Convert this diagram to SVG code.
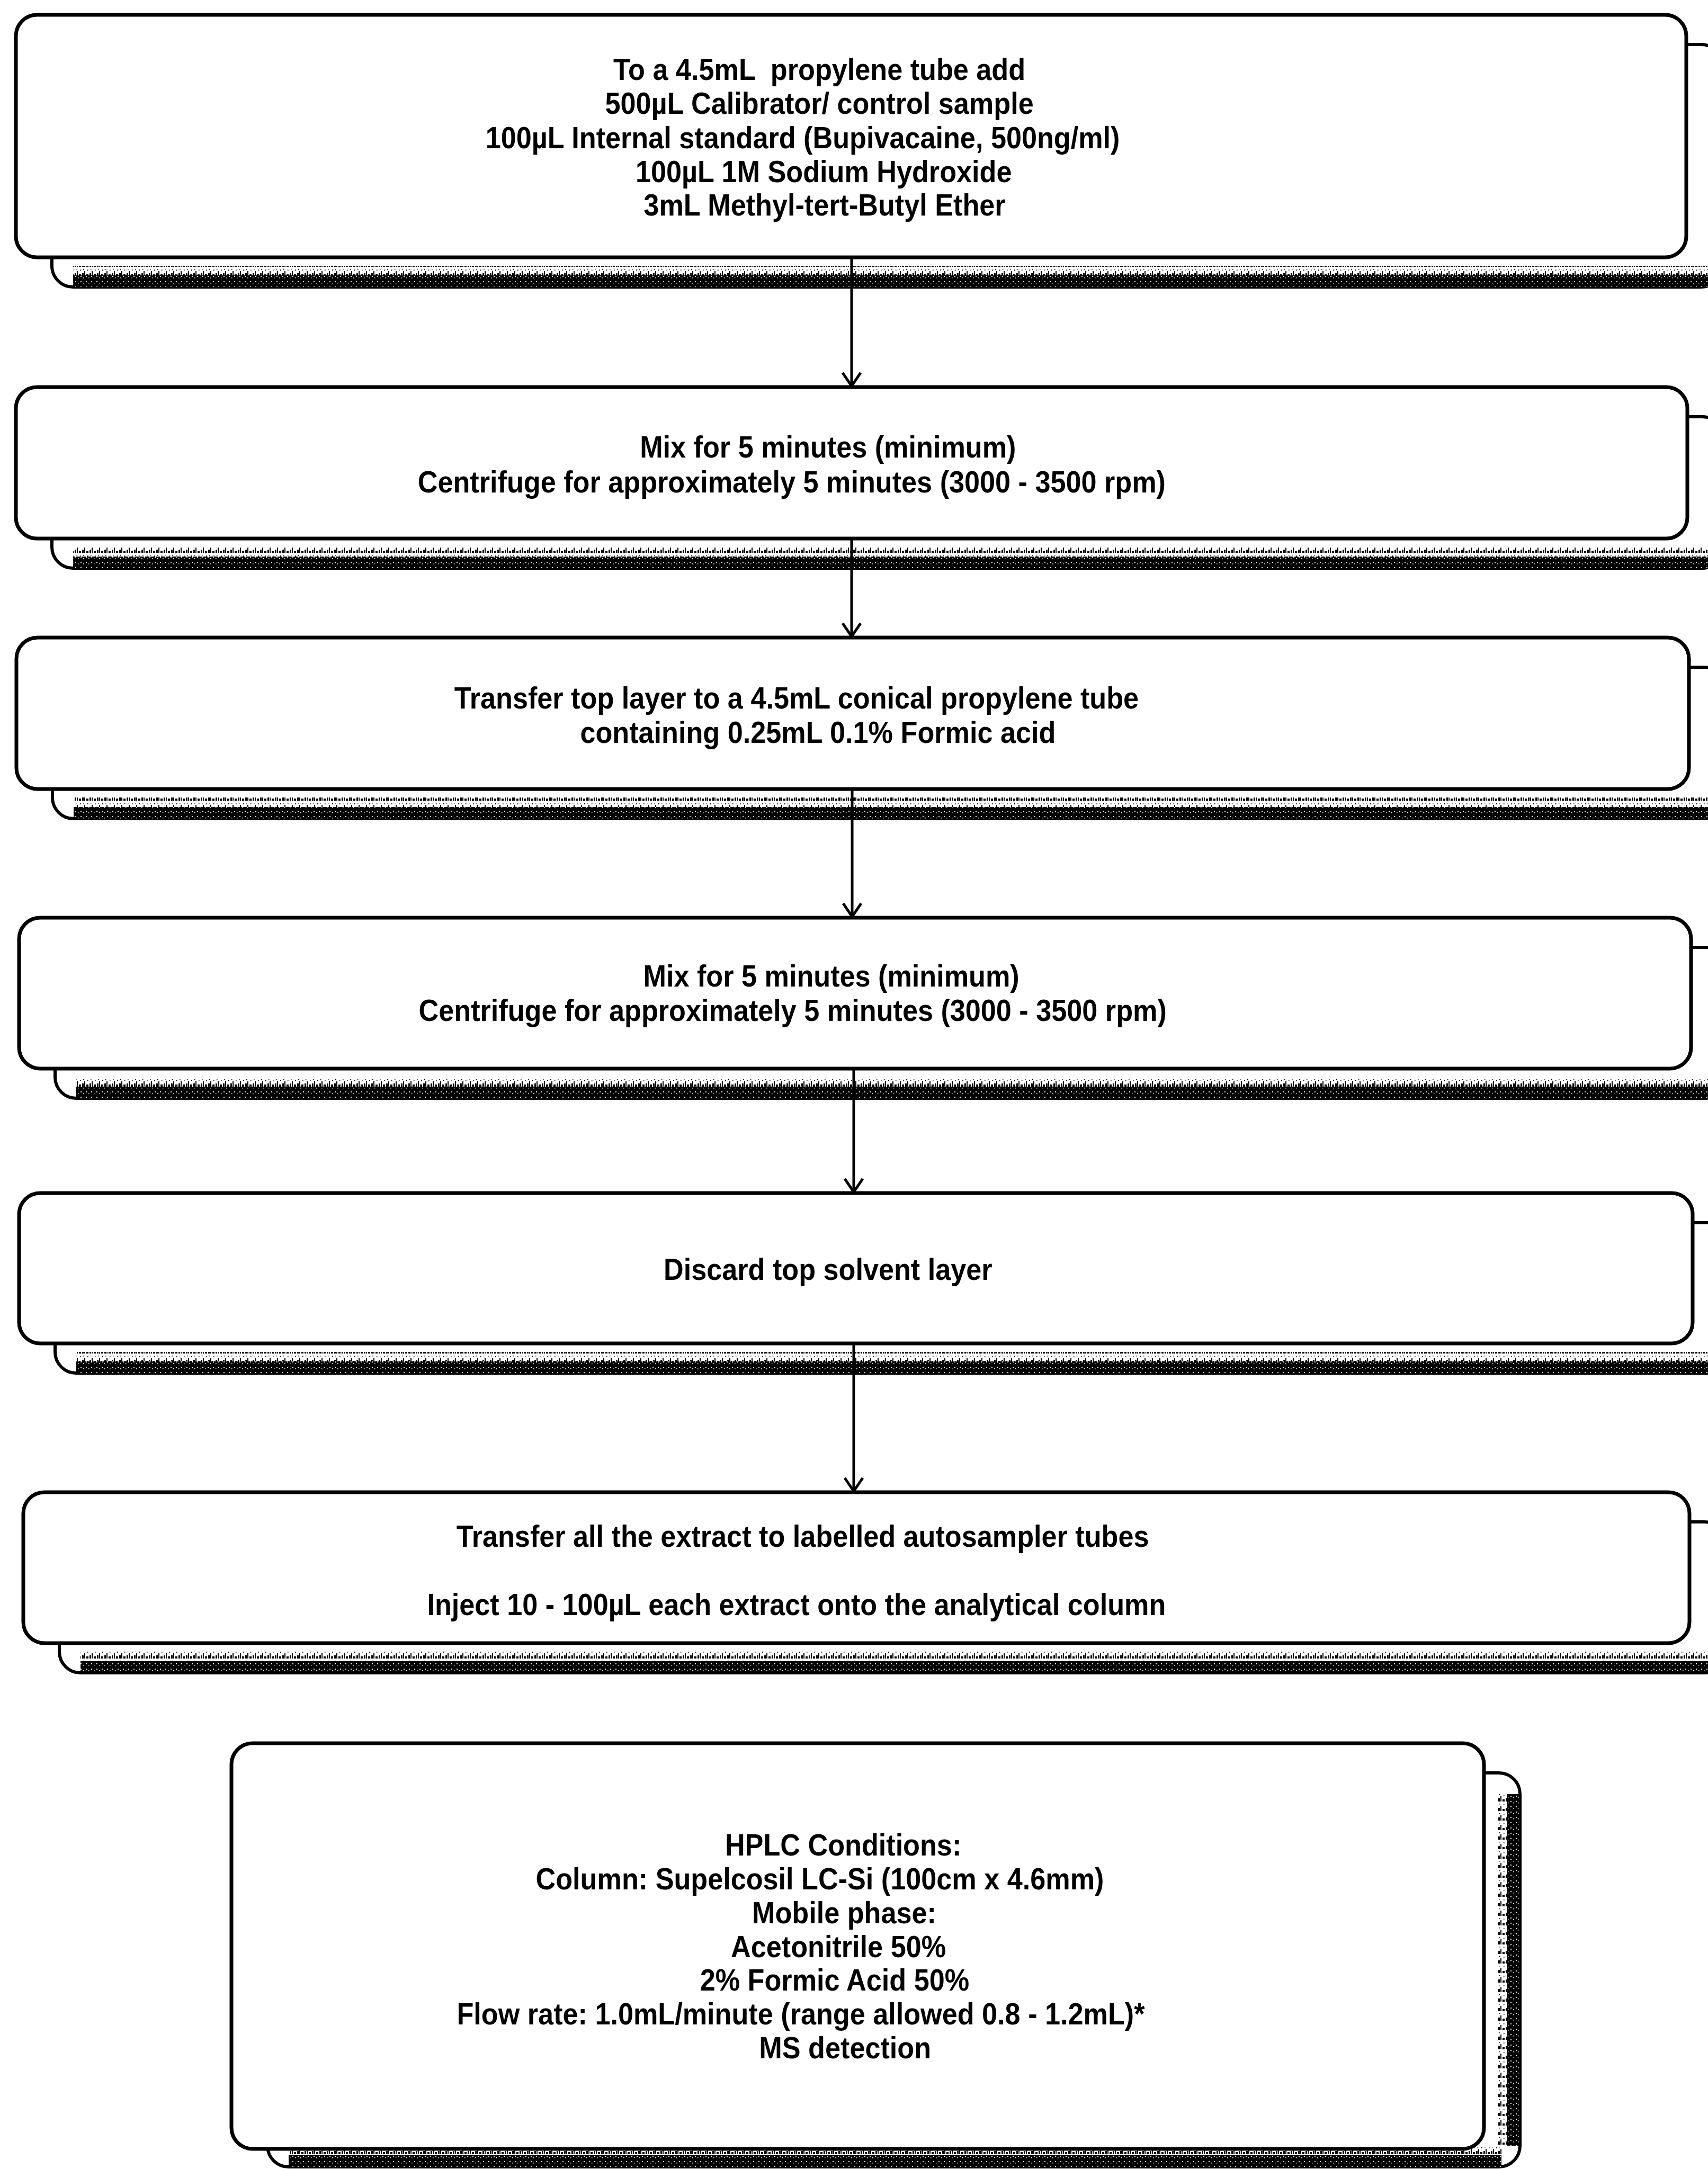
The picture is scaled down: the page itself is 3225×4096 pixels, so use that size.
<svg xmlns="http://www.w3.org/2000/svg" width="3225" height="4096" viewBox="0 0 3225 4096">
<style>
.bg{fill:#fff}
.box{fill:#fff;stroke:#000;stroke-width:7}
.shd{fill:#fff;stroke:#000;stroke-width:6}
.band{fill:url(#grain)}
.spk{fill:url(#speck)}
.t{font-family:"Liberation Sans",Arial,sans-serif;font-weight:bold;font-size:58px;text-anchor:middle;fill:#000}
.conn{stroke:#000;stroke-width:5;fill:none}
</style>
<defs>
<pattern id="grain" width="10" height="10" patternUnits="userSpaceOnUse">
<rect width="10" height="10" fill="#000"/>
<rect x="2" y="1" width="2" height="2" fill="#fff"/>
<rect x="7" y="4" width="1.5" height="1.5" fill="#fff"/>
</pattern>
<pattern id="speck" width="14" height="18" patternUnits="userSpaceOnUse">
<rect x="1" y="12" width="3" height="6" fill="#000"/>
<rect x="5" y="8" width="2" height="10" fill="#000"/>
<rect x="9" y="14" width="4" height="4" fill="#000"/>
<rect x="11" y="5" width="1.5" height="2" fill="#000"/>
<rect x="3" y="4" width="1.5" height="1.5" fill="#000"/>
</pattern>
<marker id="ah" viewBox="-4 -21 33 42" refX="25" refY="0" markerWidth="33" markerHeight="42" markerUnits="userSpaceOnUse" orient="auto">
<path d="M0,-17 L25,0 L0,17" fill="none" stroke="#000" stroke-width="5"/>
</marker>
</defs>
<rect class="bg" width="3225" height="4096"/>

<g id="node1">
<rect class="shd" x="98" y="84" width="3154" height="458" rx="40"/>
<rect class="spk" x="138" y="502" width="3100" height="18"/>
<rect class="band" x="138" y="520" width="3100" height="22"/>
<rect class="box" x="30" y="28" width="3154" height="458" rx="40"/>
<text class="t" transform="scale(0.9 1)" xml:space="preserve"><tspan x="1719" y="151">To a 4.5mL  propylene tube add</tspan></text>
<text class="t" transform="scale(0.9 1)"><tspan x="1719" y="215">500µL Calibrator/ control sample</tspan><tspan x="1684" y="280">100µL Internal standard (Bupivacaine, 500ng/ml)</tspan><tspan x="1728" y="344">100µL 1M Sodium Hydroxide</tspan><tspan x="1730" y="407">3mL Methyl-tert-Butyl Ether</tspan></text>
</g>

<g id="node2">
<rect class="shd" x="98" y="787" width="3156" height="286" rx="40"/>
<rect class="spk" x="138" y="1033" width="3100" height="18"/>
<rect class="band" x="138" y="1051" width="3100" height="22"/>
<rect class="box" x="30" y="731" width="3156" height="286" rx="40"/>
<text class="t" transform="scale(0.9 1)"><tspan x="1737" y="864">Mix for 5 minutes (minimum)</tspan><tspan x="1661" y="930">Centrifuge for approximately 5 minutes (3000 - 3500 rpm)</tspan></text>
</g>

<g id="node3">
<rect class="shd" x="99" y="1260" width="3158" height="286" rx="40"/>
<rect class="spk" x="139" y="1506" width="3100" height="18"/>
<rect class="band" x="139" y="1524" width="3100" height="22"/>
<rect class="box" x="31" y="1204" width="3158" height="286" rx="40"/>
<text class="t" transform="scale(0.9 1)"><tspan x="1671" y="1338">Transfer top layer to a 4.5mL conical propylene tube</tspan><tspan x="1716" y="1403">containing 0.25mL 0.1% Formic acid</tspan></text>
</g>

<g id="node4">
<rect class="shd" x="104" y="1789" width="3157" height="285" rx="40"/>
<rect class="spk" x="144" y="2034" width="3100" height="18"/>
<rect class="band" x="144" y="2052" width="3100" height="22"/>
<rect class="box" x="36" y="1733" width="3157" height="285" rx="40"/>
<text class="t" transform="scale(0.9 1)"><tspan x="1744" y="1863">Mix for 5 minutes (minimum)</tspan><tspan x="1663" y="1928">Centrifuge for approximately 5 minutes (3000 - 3500 rpm)</tspan></text>
</g>

<g id="node5">
<rect class="shd" x="104" y="2309" width="3160" height="284" rx="40"/>
<rect class="spk" x="144" y="2553" width="3100" height="18"/>
<rect class="band" x="144" y="2571" width="3100" height="22"/>
<rect class="box" x="36" y="2253" width="3160" height="284" rx="40"/>
<text class="t" transform="scale(0.9 1)"><tspan x="1737" y="2417">Discard top solvent layer</tspan></text>
</g>

<g id="node6">
<rect class="shd" x="112" y="2874" width="3146" height="285" rx="40"/>
<rect class="spk" x="152" y="3119" width="3100" height="18"/>
<rect class="band" x="152" y="3137" width="3100" height="22"/>
<rect class="box" x="44" y="2818" width="3146" height="285" rx="40"/>
<text class="t" transform="scale(0.9 1)"><tspan x="1684" y="2921">Transfer all the extract to labelled autosampler tubes</tspan><tspan x="1671" y="3050">Inject 10 - 100µL each extract onto the analytical column</tspan></text>
</g>

<g id="node7">
<rect class="shd" x="505" y="3348" width="2365" height="744" rx="40"/>
<rect class="spk" x="2828" y="3388" width="18" height="664"/>
<rect class="band" x="2846" y="3388" width="22" height="664"/>
<rect class="spk" x="545" y="4052" width="2290" height="18"/>
<rect class="band" x="545" y="4070" width="2290" height="22"/>
<rect class="box" x="437" y="3292" width="2365" height="766" rx="40"/>
<text class="t" transform="scale(0.9 1)"><tspan x="1769" y="3504">HPLC Conditions:</tspan><tspan x="1720" y="3568">Column: Supelcosil LC-Si (100cm x 4.6mm)</tspan><tspan x="1771" y="3632">Mobile phase:</tspan><tspan x="1759" y="3696">Acetonitrile 50%</tspan><tspan x="1751" y="3759">2% Formic Acid 50%</tspan><tspan x="1680" y="3823">Flow rate: 1.0mL/minute (range allowed 0.8 - 1.2mL)*</tspan><tspan x="1773" y="3887">MS detection</tspan></text>
</g>

<g id="connectors">
<line class="conn" x1="1608" y1="486" x2="1608" y2="729" marker-end="url(#ah)"/>
<line class="conn" x1="1608" y1="1017" x2="1608" y2="1202" marker-end="url(#ah)"/>
<line class="conn" x1="1609" y1="1490" x2="1609" y2="1731" marker-end="url(#ah)"/>
<line class="conn" x1="1612" y1="2018" x2="1612" y2="2251" marker-end="url(#ah)"/>
<line class="conn" x1="1612" y1="2537" x2="1612" y2="2816" marker-end="url(#ah)"/>
</g>
</svg>
